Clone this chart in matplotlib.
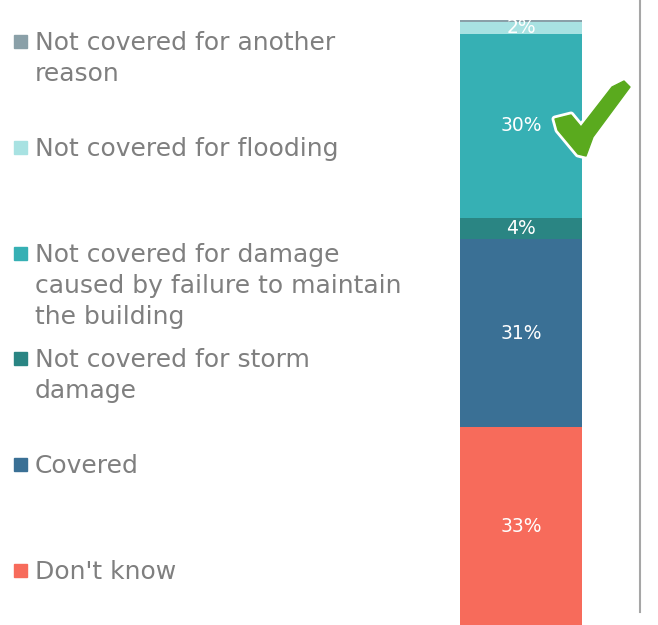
import matplotlib
matplotlib.use('Agg')
import matplotlib.pyplot as plt
from matplotlib.patches import Rectangle, Polygon
from matplotlib.lines import Line2D

# stacked from the bottom up
categories = ["Don't know", "Covered", "Not covered for storm\ndamage",
              "Not covered for damage\ncaused by failure to maintain\nthe building",
              "Not covered for flooding", "Not covered for another\nreason"]
values = [32.7, 31.1, 3.5, 30.4, 2.0, 0.3]
value_labels = ["33%", "31%", "4%", "30%", "2%", ""]
colors = ["#f76b5b", "#3a7095", "#2a8583", "#36b0b4", "#a8e2e2", "#8aa0a8"]

W, H = 658, 625
fig = plt.figure(figsize=(W / 100, H / 100), dpi=100)

ax = fig.add_axes([460 / W, 0, 122 / W, 605 / H])
bottom = 0
for v, lab, c in zip(values, value_labels, colors):
    ax.bar(0, v, bottom=bottom, width=1, color=c)
    if lab:
        ax.text(0, bottom + v / 2, lab, ha='center', va='center',
                color='white', fontsize=13.5)
    bottom += v
ax.set_xlim(-0.5, 0.5)
ax.set_ylim(0, sum(values))
ax.axis('off')

# legend, top entry first, evenly spaced
for i, (name, c) in enumerate(zip(categories[::-1], colors[::-1])):
    yc = 42 + i * 105.8
    fig.add_artist(Rectangle((14 / W, 1 - (yc + 6) / H), 13 / W, 13 / H,
                             transform=fig.transFigure, color=c))
    fig.text(35 / W, 1 - (yc - 11) / H, name, va='top', ha='left',
             fontsize=18, color='#7f7f7f', linespacing=1.37)

# separator line
fig.add_artist(Line2D([640 / W, 640 / W], [1 - 612 / H, 1],
                      transform=fig.transFigure, color='#a6a6a6', lw=1.5))

# check mark: white outline underneath, green on top
tick = [(555, 119), (571, 115), (581, 127), (612, 87), (624, 81), (630, 87),
        (593, 137), (586, 156), (578, 154), (558, 130)]
pts = [(x / W, 1 - y / H) for x, y in tick]
fig.add_artist(Polygon(pts, closed=True, transform=fig.transFigure,
                       facecolor='white', edgecolor='white', lw=5,
                       joinstyle='round'))
fig.add_artist(Polygon(pts, closed=True, transform=fig.transFigure,
                       facecolor='#5aaa1e', edgecolor='#5aaa1e', lw=1,
                       joinstyle='round'))

fig.savefig('out.png', dpi=100)
